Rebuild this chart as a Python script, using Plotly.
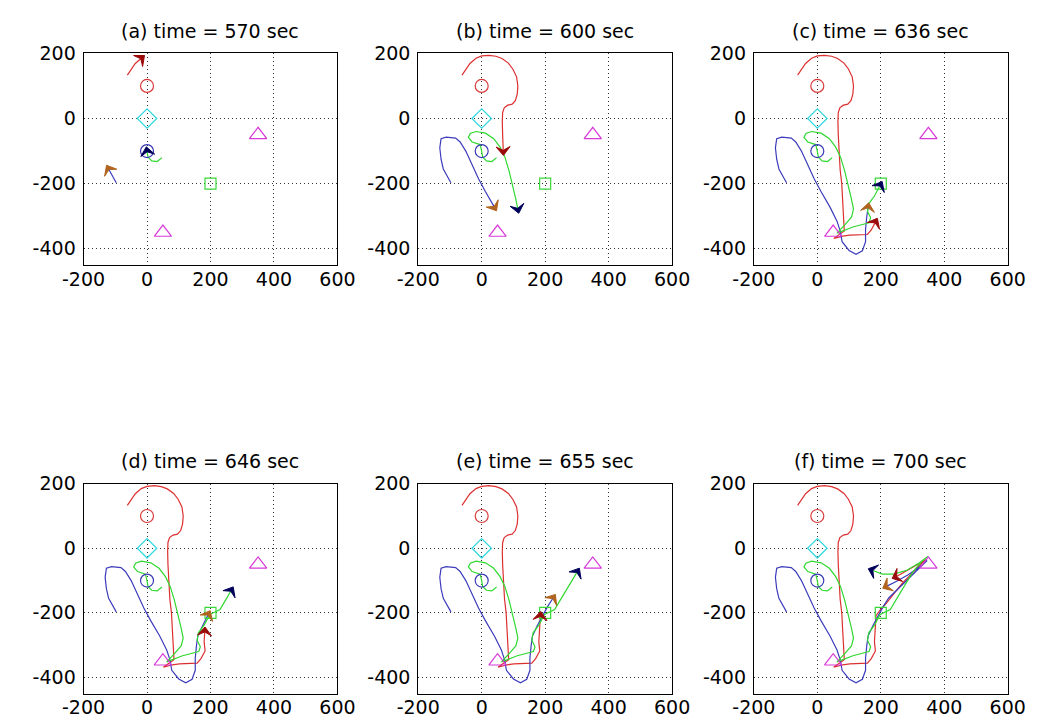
import numpy as np
import plotly.graph_objects as go

# ---- figure geometry -------------------------------------------------------
FIG_W, FIG_H = 1044, 727
FONT = "DejaVu Sans, Arial, sans-serif"

panel_titles = [
    "(a) time = 570 sec", "(b) time = 600 sec", "(c) time = 636 sec",
    "(d) time = 646 sec", "(e) time = 655 sec", "(f) time = 700 sec",
]

x_ticks = [-200, 0, 200, 400, 600]
x_tick_text = ["-200", "0", "200", "400", "600"]
y_ticks = [-400, -200, 0, 200]
y_tick_text = ["-400", "-200", "0", "200"]
x_range = [-200, 600]
y_range = [-450, 200]

# ---- waypoints -------------------------------------------------------------
wp_red_circle = ([0], [100])
wp_cyan_diamond = ([0], [0])
wp_blue_circle = ([0], [-100])
wp_green_square = ([200], [-200])
wp_triangles = ([350, 50], [-50, -350])

# ---- flown routes (full history up to t = 700 s) ---------------------------
red_x = [-62, -50, -37, -18, 0, 23, 45, 64, 84, 98, 110, 114, 112, 106, 96, 82,
         71, 66, 65, 66, 68, 72, 77, 80, 82, 85, 52, 80, 102, 158, 170, 183,
         180, 182, 183, 185, 198, 218, 242, 270, 300, 328, 345, 322, 292, 266, 248]
red_y = [133, 152, 169, 185, 192, 194, 191, 184, 170, 152, 128, 100, 75, 55, 44,
         41, 33, 18, -10, -50, -100, -158, -200, -255, -315, -345, -368, -361,
         -358, -356, -342, -318, -290, -257, -232, -209, -192, -170, -140, -106,
         -76, -47, -34, -47, -64, -80, -88]

blue_x = [-97, -108, -121, -128, -132, -128, -112, -82, -68, -50, -30, -10, 12,
          40, 62, 72, 78, 100, 122, 142, 152, 152, 156, 160, 175, 193, 208, 225,
          258, 295, 328, 346, 322, 285, 250, 218]
blue_y = [-197, -178, -155, -125, -90, -62, -57, -60, -72, -100, -145, -185,
          -225, -272, -315, -345, -378, -405, -417, -406, -378, -340, -300,
          -272, -240, -205, -180, -154, -122, -88, -55, -38, -58, -83, -102, -118]

green_x = [47, 32, 15, 3, 0, -5, -30, -42, -36, -18, 12, 38, 58, 73, 86, 98,
           107, 114, 108, 88, 72, 62, 112, 163, 168, 158, 162, 180, 198, 230,
           248, 265, 285, 301, 328, 348, 322, 282, 240, 205, 173]
green_y = [-120, -132, -130, -118, -100, -80, -72, -58, -46, -40, -45, -62, -88,
           -118, -160, -205, -245, -278, -302, -325, -340, -352, -333, -320,
           -305, -285, -262, -238, -205, -190, -160, -131, -100, -73, -42, -25,
           -45, -68, -80, -80, -68]

# number of route points flown at each panel's time (a .. f)
red_flown = [4, 21, 32, 34, 36, 47]
blue_flown = [3, 14, 24, 26, 28, 36]
green_flown = [5, 18, 29, 32, 34, 41]

# ---- styles ----------------------------------------------------------------
route_colors = {"red": "#dc3030", "blue": "#3c3cbc", "green": "#30d830"}
glyph_colors = {"red": "#9a0a0a", "blue": "#b0641e", "green": "#00005a"}

routes = {
    "red": (red_x, red_y, red_flown),
    "blue": (blue_x, blue_y, blue_flown),
    "green": (green_x, green_y, green_flown),
}

# swept-wing chevron outline in body axes (forward, lateral)
CHEVRON_F = np.array([0.6, -0.6, -0.1, -0.6, 0.6])
CHEVRON_L = np.array([0.0, 1.0, 0.0, -1.0, 0.0])
GLYPH_SCALE = 22.0


def chevron(px, py, qx, qy):
    """Outline of a heading glyph at (qx, qy), pointing from (px, py)."""
    hd = np.arctan2(qy - py, qx - px)
    c, s = np.cos(hd), np.sin(hd)
    gx = qx + GLYPH_SCALE * (CHEVRON_F * c - CHEVRON_L * s)
    gy = qy + GLYPH_SCALE * (CHEVRON_F * s + CHEVRON_L * c)
    return gx, gy


# ---- panel placement (pixels) ----------------------------------------------
col_px = [(64, 328), (412, 676), (761, 1025)]
row_px = [(43, 258), (480, 693)]

fig = go.Figure()
annotations = []
layout_axes = {}

for k, title in enumerate(panel_titles):
    r, c = divmod(k, 3)
    n = k + 1
    xa = "x" if n == 1 else f"x{n}"
    ya = "y" if n == 1 else f"y{n}"
    x0, x1 = col_px[c]
    y0, y1 = row_px[r]

    axis_style = dict(
        showline=True, linecolor="black", linewidth=1, mirror=True,
        ticks="", showgrid=True, gridcolor="#333333", griddash="1px,3px",
        gridwidth=1, zeroline=False,
        tickfont=dict(family=FONT, size=19, color="black"),
    )
    layout_axes["xaxis" if n == 1 else f"xaxis{n}"] = dict(
        axis_style, domain=[x0 / FIG_W, x1 / FIG_W], range=x_range,
        tickvals=x_ticks, ticktext=x_tick_text, anchor=ya, fixedrange=True,
        ticklabelstandoff=-3,
    )
    layout_axes["yaxis" if n == 1 else f"yaxis{n}"] = dict(
        axis_style, domain=[1 - y1 / FIG_H, 1 - y0 / FIG_H], range=y_range,
        tickvals=y_ticks, ticktext=y_tick_text, anchor=xa, fixedrange=True,
        ticklabelstandoff=3,
    )

    # routes flown so far
    for name, (rx, ry, flown) in routes.items():
        m = flown[k]
        fig.add_trace(go.Scatter(
            x=rx[:m], y=ry[:m], mode="lines", xaxis=xa, yaxis=ya,
            line=dict(color=route_colors[name], width=1.2),
            showlegend=False, hoverinfo="skip",
        ))

    # waypoints
    fig.add_trace(go.Scatter(
        x=wp_red_circle[0], y=wp_red_circle[1], mode="markers", xaxis=xa, yaxis=ya,
        marker=dict(symbol="circle-open", size=13, color="#d83a3a",
                    line=dict(width=1.2)), showlegend=False, hoverinfo="skip"))
    fig.add_trace(go.Scatter(
        x=wp_cyan_diamond[0], y=wp_cyan_diamond[1], mode="markers", xaxis=xa, yaxis=ya,
        marker=dict(symbol="diamond-open", size=15, color="#30d8e0",
                    line=dict(width=1.2)), showlegend=False, hoverinfo="skip"))
    fig.add_trace(go.Scatter(
        x=wp_blue_circle[0], y=wp_blue_circle[1], mode="markers", xaxis=xa, yaxis=ya,
        marker=dict(symbol="circle-open", size=13, color="#3a3ab8",
                    line=dict(width=1.2)), showlegend=False, hoverinfo="skip"))
    fig.add_trace(go.Scatter(
        x=wp_green_square[0], y=wp_green_square[1], mode="markers", xaxis=xa, yaxis=ya,
        marker=dict(symbol="square-open", size=11, color="#38d838",
                    line=dict(width=1.2)), showlegend=False, hoverinfo="skip"))
    fig.add_trace(go.Scatter(
        x=wp_triangles[0], y=wp_triangles[1], mode="markers", xaxis=xa, yaxis=ya,
        marker=dict(symbol="triangle-up-open", size=15, color="#d838d8",
                    line=dict(width=1.2)), showlegend=False, hoverinfo="skip"))

    # heading glyph at each aircraft's current position
    for name, (rx, ry, flown) in routes.items():
        m = flown[k]
        gx, gy = chevron(rx[m - 2], ry[m - 2], rx[m - 1], ry[m - 1])
        fig.add_trace(go.Scatter(
            x=gx, y=gy, mode="lines", fill="toself", xaxis=xa, yaxis=ya,
            fillcolor=glyph_colors[name],
            line=dict(color=glyph_colors[name], width=1),
            showlegend=False, hoverinfo="skip",
        ))

    annotations.append(dict(
        text=title, xref="paper", yref="paper",
        x=(x0 + x1) / 2 / FIG_W, y=1 - (y0 - 23) / FIG_H,
        xanchor="center", yanchor="middle", showarrow=False,
        font=dict(family=FONT, size=19, color="black"),
    ))

fig.update_layout(
    width=FIG_W, height=FIG_H,
    margin=dict(l=0, r=0, t=0, b=0),
    paper_bgcolor="white", plot_bgcolor="white",
    annotations=annotations,
    **layout_axes,
)

# the page itself should not add any spacing around the figure
page_reset = ("document.body.style.margin='0';"
              "document.body.style.overflow='hidden';")

fig.write_html("out.html", include_plotlyjs=True, full_html=True,
               config={"displayModeBar": False}, post_script=page_reset)
